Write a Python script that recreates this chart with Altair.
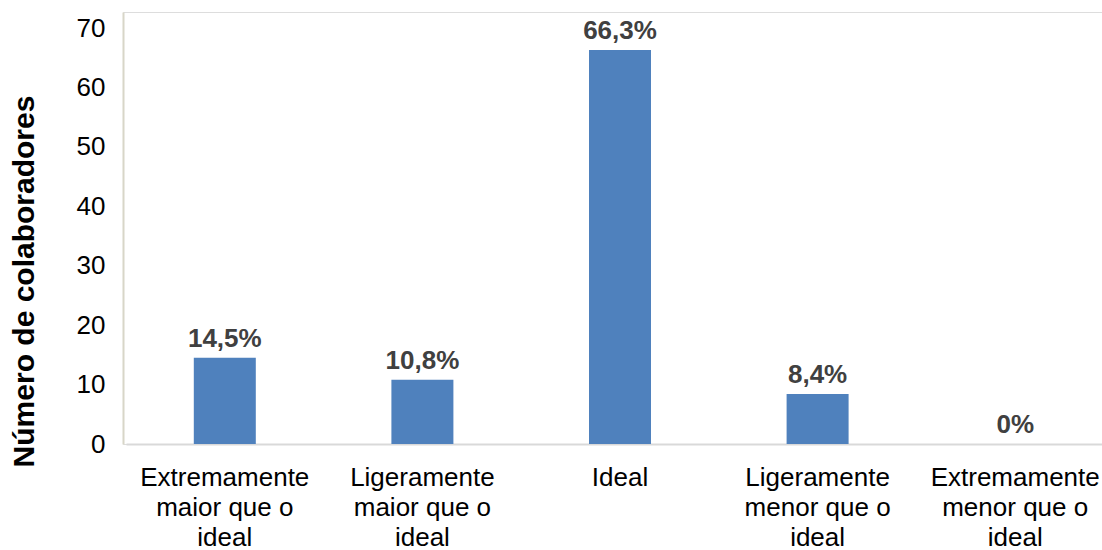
import altair as alt
import pandas as pd

categories = [
    "Extremamente\nmaior que o\nideal",
    "Ligeramente\nmaior que o\nideal",
    "Ideal",
    "Ligeramente\nmenor que o\nideal",
    "Extremamente\nmenor que o\nideal",
]
values = [14.5, 10.8, 66.3, 8.4, 0.0]
labels = ["14,5%", "10,8%", "66,3%", "8,4%", "0%"]
y_ticks = [0, 10, 20, 30, 40, 50, 60, 70]

df = pd.DataFrame({"cat": categories, "val": values, "lab": labels})

x_scale = alt.Scale(paddingInner=0, paddingOuter=0, range=[3, 991])

x = alt.X(
    "cat:N",
    sort=categories,
    scale=x_scale,
    axis=alt.Axis(
        title=None,
        labelAngle=0,
        labelExpr="split(datum.label, '\\n')",
        labelFontSize=26,
        labelFont="Liberation Sans",
        labelColor="#000000",
        labelLineHeight=30,
        labelPadding=20,
        labelBaseline="top",
        ticks=False,
        domainColor="#D9D9D9",
        domainWidth=2,
    ),
)
y = alt.Y(
    "val:Q",
    scale=alt.Scale(domain=[0, 72.7], nice=False),
    axis=alt.Axis(
        title="Número de colaboradores",
        values=y_ticks,
        grid=False,
        ticks=False,
        labelFontSize=26,
        labelFont="Liberation Sans",
        labelColor="#000000",
        labelPadding=18,
        titleFontSize=30,
        titleFont="Liberation Sans",
        titleFontWeight="bold",
        titleColor="#000000",
        titleX=-99,
        titleY=269,
        titleAngle=270,
        titleAlign="center",
        titleBaseline="middle",
        domainColor="#D8D6C8",
        domainWidth=2,
    ),
)

bars = alt.Chart(df).mark_bar(color="#4F81BD", size=62).encode(x=x, y=y)
text = alt.Chart(df).mark_text(
    baseline="bottom",
    dy=-6,
    fontSize=26,
    fontWeight="bold",
    font="Liberation Sans",
    color="#404040",
).encode(x=alt.X("cat:N", sort=categories, scale=x_scale), y="val:Q", text="lab:N")

chart = (
    alt.layer(bars, text)
    .properties(
        width=979,
        height=432,
        autosize=alt.AutoSizeParams(type="none"),
        padding={"left": 123, "top": 12, "right": 0, "bottom": 106},
    )
    .configure_view(stroke=None)
    .configure(background="white")
)

chart.save("out.html", embed_options={"renderer": "svg", "actions": False})
